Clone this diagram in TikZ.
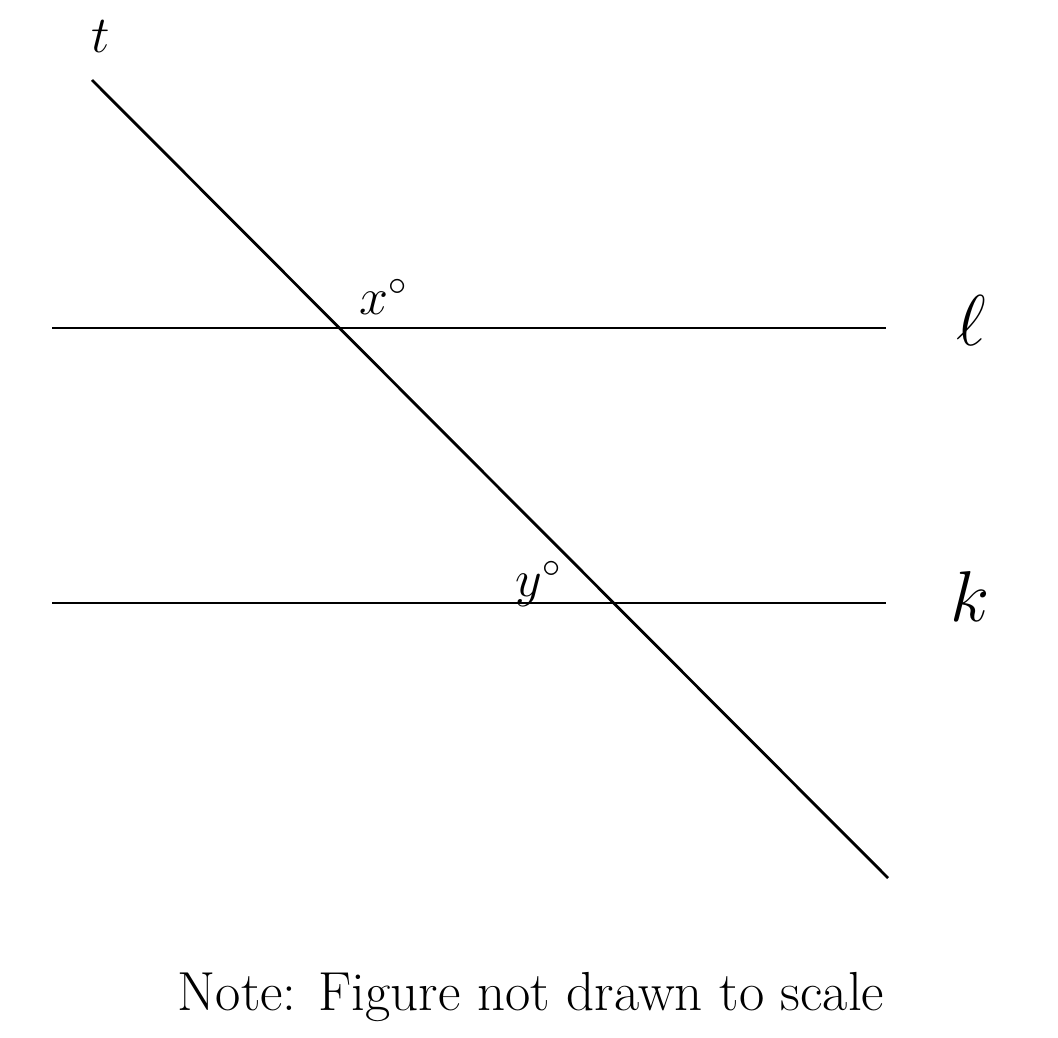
\documentclass[tikz,border=0pt]{standalone}
\usepackage{fix-cm}
\begin{document}
\begin{tikzpicture}[x=1pt,y=-1pt,
  geoline/.style={line width=2.8pt, line cap=butt},
  smalllab/.style={inner sep=0pt, font=\fontsize{52}{60}\selectfont},
  biglab/.style={inner sep=0pt, font=\fontsize{72}{80}\selectfont}]
\useasboundingbox (0,0) rectangle (1058,1038);
\coordinate (t1) at (92,80);
\coordinate (t2) at (888,878);
\coordinate (l1) at (52,328);
\coordinate (l2) at (886,328);
\coordinate (k1) at (52,603);
\coordinate (k2) at (886,603);
\draw[geoline] (t1) -- (t2);
\draw[geoline] (l1) -- (l2);
\draw[geoline] (k1) -- (k2);
\node[smalllab] (tlab) at (101,37) {$t$};
\node[smalllab] (xlab) at (383,297) {$x^{\circ}$};
\node[smalllab] (ylab) at (538,584) {$y^{\circ}$};
\node[biglab] (llab) at (971,320) {$\ell$};
\node[biglab] (klab) at (970,596) {$k$};
\node[inner sep=0pt, font=\fontsize{55}{66}\selectfont, anchor=base] (note) at (531,1010) {Note: Figure not drawn to scale};
\end{tikzpicture}
\end{document}
